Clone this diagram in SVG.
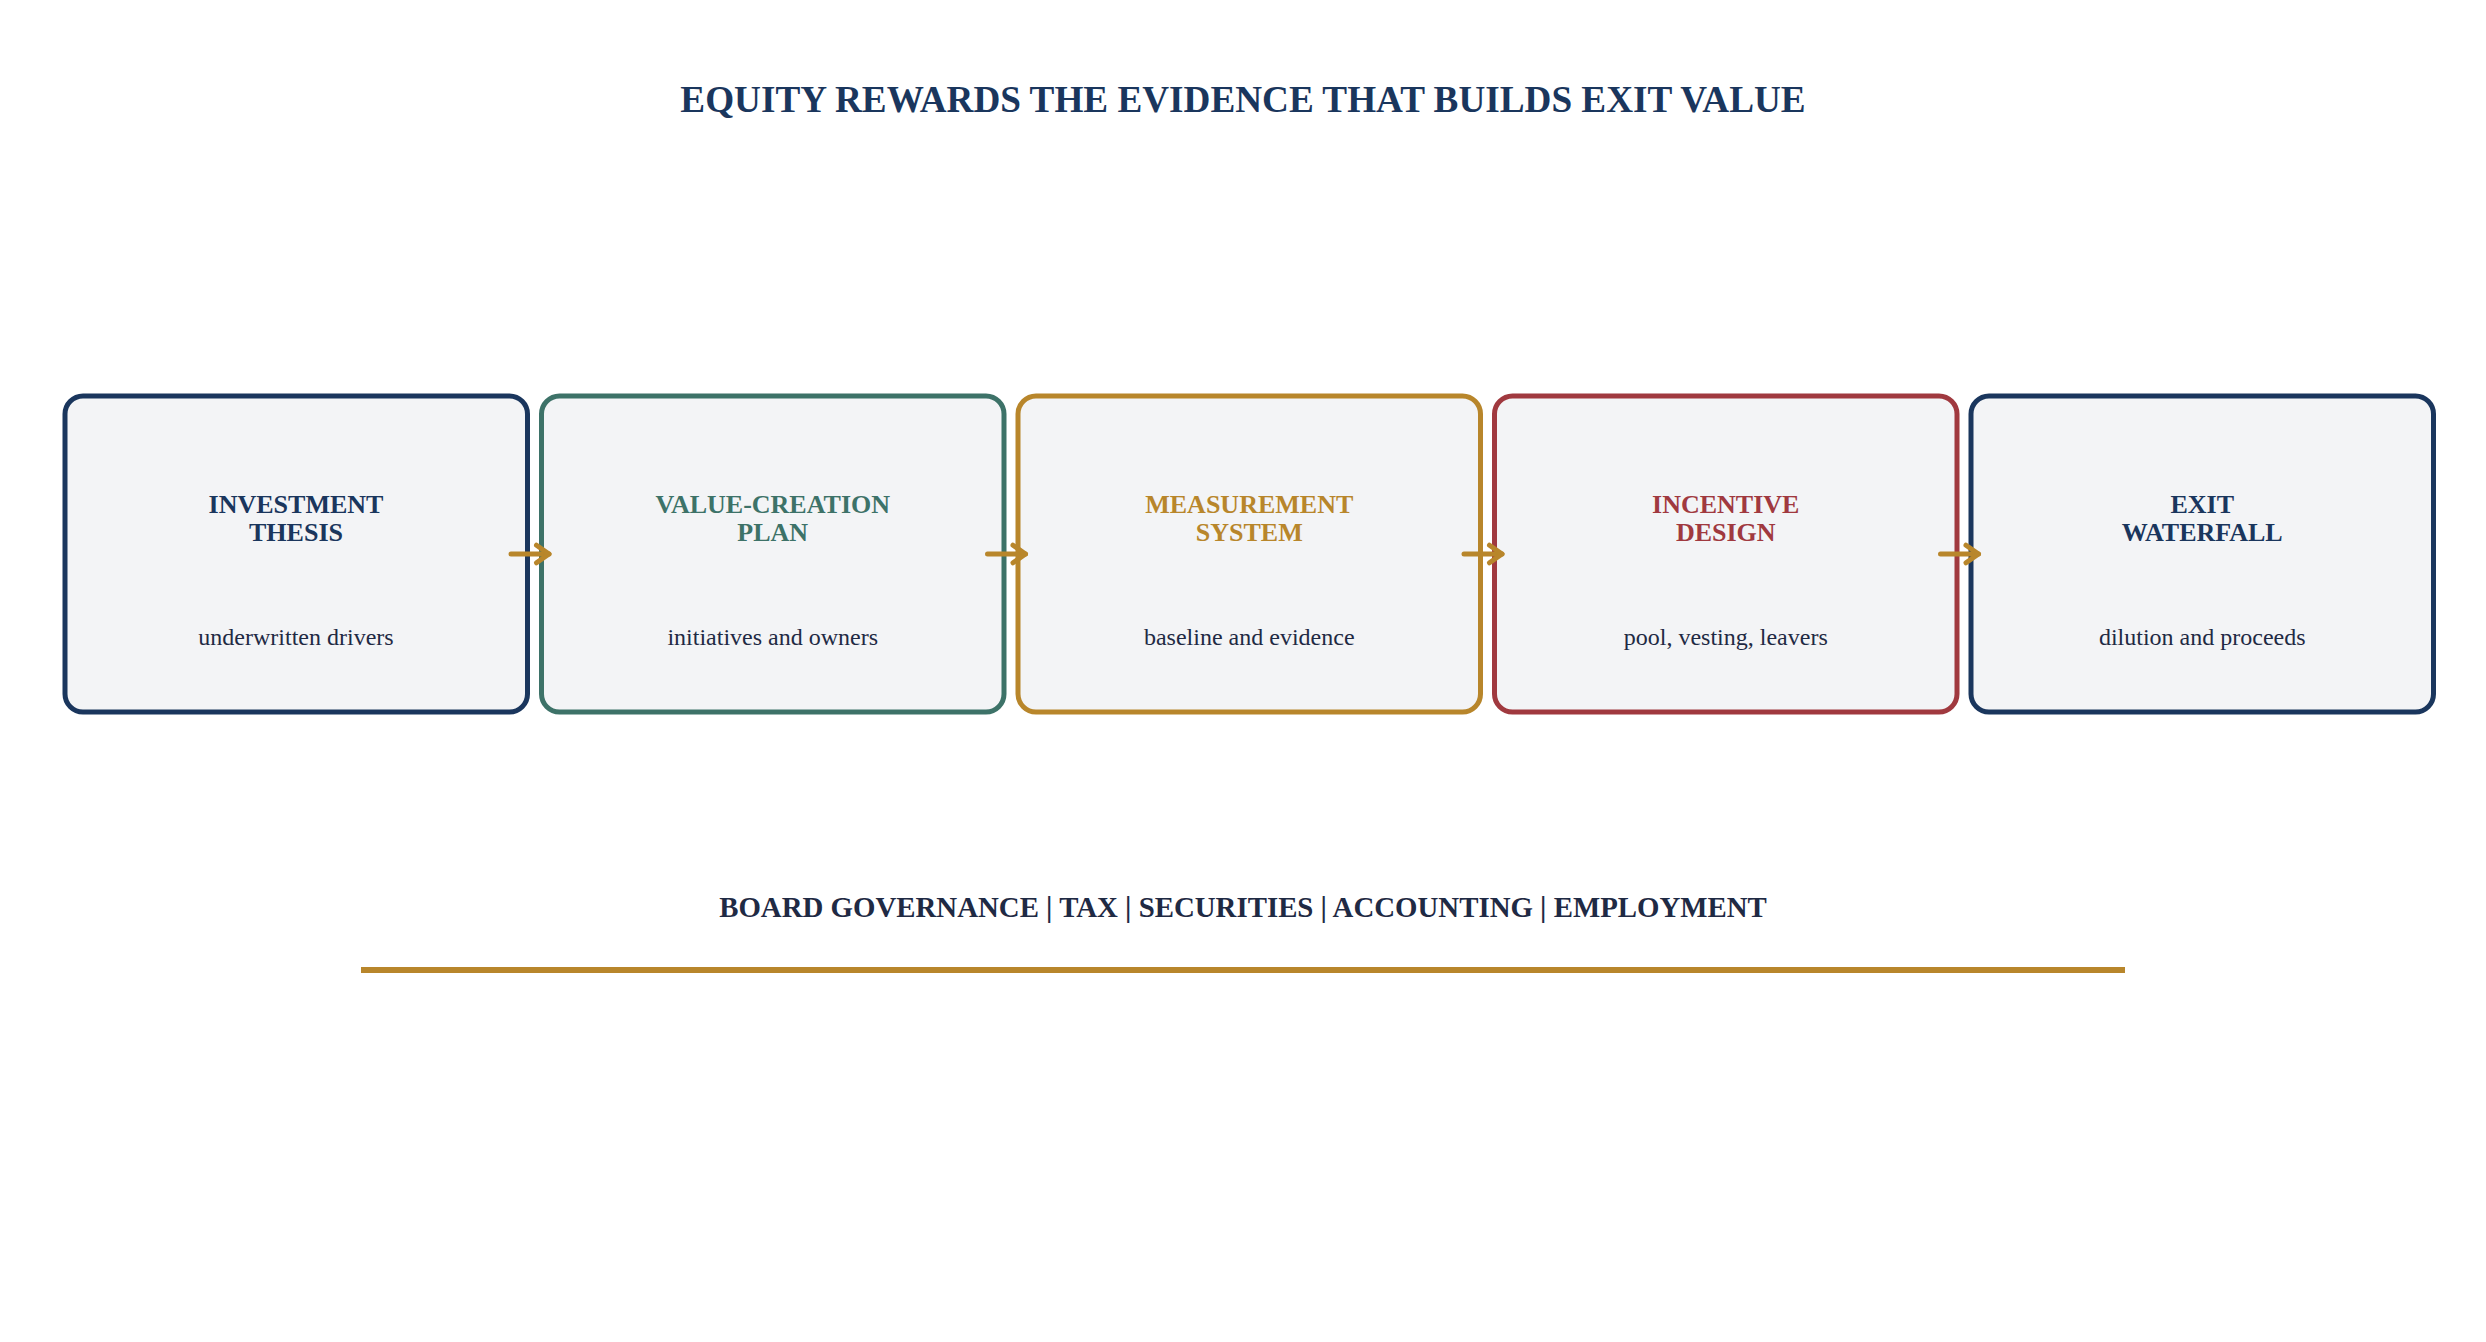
<svg xmlns="http://www.w3.org/2000/svg" width="2486" height="1342" viewBox="0 0 2486 1342">
<defs>
<style>
.box{fill:#f3f4f6;stroke-width:5}
.t{font-family:"Liberation Serif","Times New Roman",serif;font-weight:bold;font-size:26px;text-anchor:middle}
.s{font-family:"Liberation Serif","Times New Roman",serif;font-size:24px;fill:#1f2a44;text-anchor:middle}
.arr{stroke:#b8862b;stroke-width:5;fill:none;stroke-linecap:round}
</style>
<marker id="ah" viewBox="0 0 10 10" refX="8" refY="5" markerWidth="5" markerHeight="5" orient="auto" markerUnits="strokeWidth">
<path d="M3,1.5 L8,5 L3,8.5" fill="none" stroke="#b8862b" stroke-width="2" stroke-linecap="round" stroke-linejoin="round"/>
</marker>
</defs>
<rect width="2486" height="1342" fill="#ffffff"/>
<text x="1243" y="112" font-family="'Liberation Serif','Times New Roman',serif" font-weight="bold" font-size="37.2" fill="#1a365d" text-anchor="middle">EQUITY REWARDS THE EVIDENCE THAT BUILDS EXIT VALUE</text>
<g id="node1">
<rect class="box" x="65" y="396" width="462.5" height="316" rx="18" stroke="#1a365d"/>
<text class="t" fill="#1a365d" x="296" y="513">INVESTMENT</text>
<text class="t" fill="#1a365d" x="296" y="541">THESIS</text>
<text class="s" x="296" y="645">underwritten drivers</text>
</g>
<g id="node2">
<rect class="box" x="541.5" y="396" width="462.5" height="316" rx="18" stroke="#3d7268"/>
<text class="t" fill="#3d7268" x="772.75" y="513">VALUE-CREATION</text>
<text class="t" fill="#3d7268" x="772.75" y="541">PLAN</text>
<text class="s" x="772.75" y="645">initiatives and owners</text>
</g>
<g id="node3">
<rect class="box" x="1018" y="396" width="462.5" height="316" rx="18" stroke="#b8862b"/>
<text class="t" fill="#b8862b" x="1249.25" y="513">MEASUREMENT</text>
<text class="t" fill="#b8862b" x="1249.25" y="541">SYSTEM</text>
<text class="s" x="1249.25" y="645">baseline and evidence</text>
</g>
<g id="node4">
<rect class="box" x="1494.5" y="396" width="462.5" height="316" rx="18" stroke="#a0393f"/>
<text class="t" fill="#a0393f" x="1725.75" y="513">INCENTIVE</text>
<text class="t" fill="#a0393f" x="1725.75" y="541">DESIGN</text>
<text class="s" x="1725.75" y="645">pool, vesting, leavers</text>
</g>
<g id="node5">
<rect class="box" x="1971" y="396" width="462.5" height="316" rx="18" stroke="#1a365d"/>
<text class="t" fill="#1a365d" x="2202.25" y="513">EXIT</text>
<text class="t" fill="#1a365d" x="2202.25" y="541">WATERFALL</text>
<text class="s" x="2202.25" y="645">dilution and proceeds</text>
</g>
<g id="connectors">
<line class="arr" x1="511" y1="554" x2="549" y2="554" marker-end="url(#ah)"/>
<line class="arr" x1="987.5" y1="554" x2="1025.5" y2="554" marker-end="url(#ah)"/>
<line class="arr" x1="1464" y1="554" x2="1502" y2="554" marker-end="url(#ah)"/>
<line class="arr" x1="1940.5" y1="554" x2="1978.5" y2="554" marker-end="url(#ah)"/>
</g>
<text x="1243" y="917" font-family="'Liberation Serif','Times New Roman',serif" font-weight="bold" font-size="28.85" fill="#1f2a44" text-anchor="middle">BOARD GOVERNANCE | TAX | SECURITIES | ACCOUNTING | EMPLOYMENT</text>
<line x1="361" y1="970" x2="2125" y2="970" stroke="#b8862b" stroke-width="6"/>
</svg>
